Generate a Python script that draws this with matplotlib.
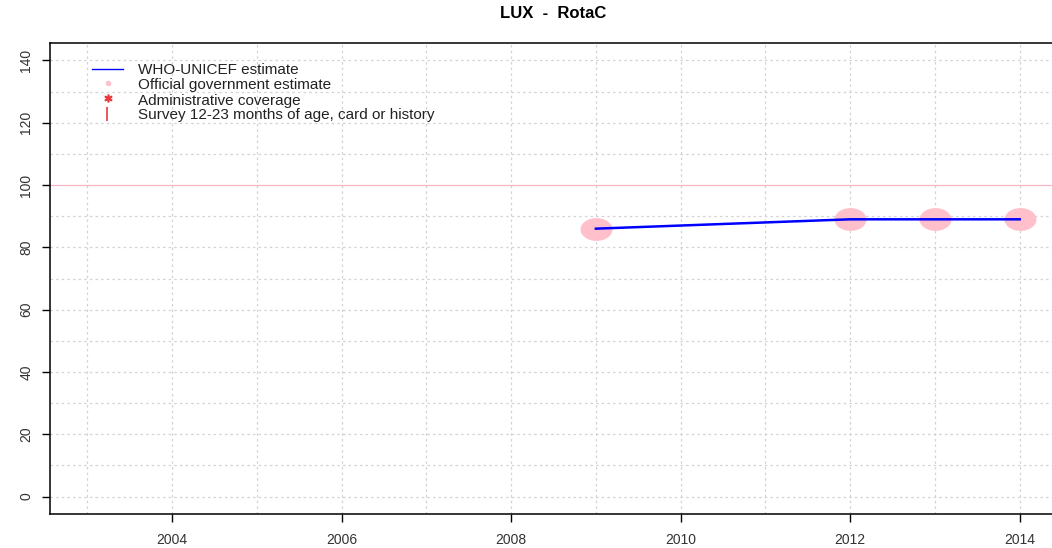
import numpy as np
import matplotlib
matplotlib.use("Agg")
import matplotlib.pyplot as plt
from matplotlib.path import Path
from matplotlib.lines import Line2D

years_wuenic = [2009, 2010, 2011, 2012, 2013, 2014]
wuenic = [86, 87, 88, 89, 89, 89]
years_gov = [2009, 2012, 2013, 2014]
gov = [86, 89, 89, 89]
xticks = [2004, 2006, 2008, 2010, 2012, 2014]
yticks = [0, 20, 40, 60, 80, 100, 120, 140]
title = "LUX  -  RotaC"
legend_labels = ['WHO-UNICEF estimate', 'Official government estimate',
                 'Administrative coverage', 'Survey 12-23 months of age, card or history']

plt.rcParams['font.family'] = ['Liberation Sans', 'DejaVu Sans']

W, H = 1052, 548
fig = plt.figure(figsize=(W / 100, H / 100), dpi=100)
ax = fig.add_axes([50 / W, (H - 514) / H, 1007 / W, 471 / H])

ax.set_xlim(2002.56, 2014.44)
ax.set_ylim(-5.6, 145.6)

for x in range(2003, 2015):
    ax.axvline(x, color='#d3d3d3', lw=0.9, ls=(0, (2, 2.5)), zorder=0)
for y in range(0, 150, 10):
    if y == 100:
        continue
    ax.axhline(y, color='#d3d3d3', lw=0.9, ls=(0, (2, 2.5)), zorder=0)
ax.axhline(100, color='#f4b6c2', lw=0.9, zorder=1)

t = np.linspace(0, 2 * np.pi, 60)
ell = Path(np.column_stack([1.4 * np.cos(t), np.sin(t)]), closed=True)
ax.plot(years_gov, gov, ls='none', marker=ell, ms=23, color='#ffc0cb',
        mec='none', zorder=2)
ax.plot(years_wuenic, wuenic, color='#0000ff', lw=1.8, zorder=3)

ax.set_xticks(xticks)
ax.set_yticks(yticks)
ax.tick_params(axis='both', direction='out', length=6, width=1,
               colors='black', labelcolor='#333333', labelsize=10)
ax.tick_params(axis='x', pad=8)
ax.tick_params(axis='y', pad=6)
for lbl in ax.get_yticklabels():
    lbl.set_rotation(90)
    lbl.set_va('center')
for s in ax.spines.values():
    s.set_linewidth(1.1)

# legend (no frame), placed like the reference
row_y = [69, 84, 99, 114]
tx = 138
for ry, lab in zip(row_y, legend_labels):
    fig.text(tx / W, 1 - ry / H, lab, ha='left', va='center_baseline', fontsize=11,
             color='#222222')
fy = lambda py: 1 - py / H
fig.add_artist(Line2D([92 / W, 123 / W], [fy(row_y[0]), fy(row_y[0])],
                      color='#0000ff', lw=1))
fig.add_artist(Line2D([107.5 / W], [fy(row_y[1] - 1)], ls='none', marker='o', ms=4,
                      color='#ffc0cb', mec='none'))
fig.add_artist(Line2D([107.5 / W], [fy(row_y[2] - 1)], ls='none', marker='$*$', ms=5,
                      color='#e8383d'))
fig.add_artist(Line2D([106.5 / W], [fy(row_y[3])], ls='none', marker='|', ms=10,
                      mew=1.2, color='#e8383d'))

fig.text(553 / W, 1 - 14 / H, title, ha='center', va='center',
         fontsize=12, fontweight='bold')

fig.savefig('out.png', dpi=100)
